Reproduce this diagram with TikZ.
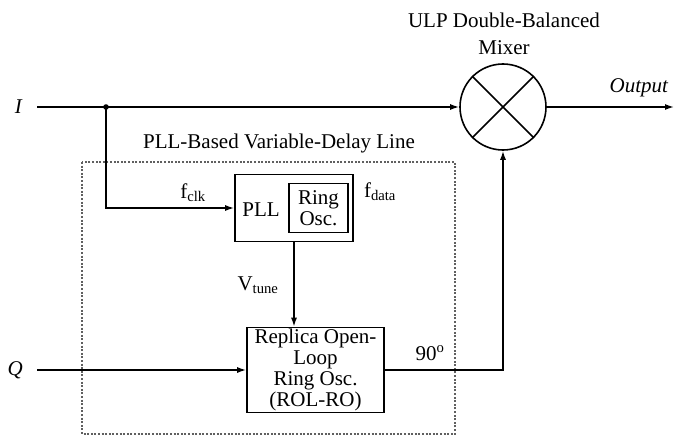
\documentclass[tikz,border=0pt]{standalone}
\usepackage{fontspec}
\setmainfont{Liberation Serif}
\usetikzlibrary{positioning,arrows.meta}
\tikzset{
    blk/.style={draw, line width=1.6pt, inner sep=0pt, align=center},
    wire/.style={line width=1.5pt},
    >={Latex[length=9pt,width=6pt]}
}
\begin{document}
\begin{tikzpicture}[x=1pt, y=-1pt, font=\fontsize{21}{21}\selectfont]
    \useasboundingbox (0,0) rectangle (686,436);
    % delay line frame
    \draw[dash pattern=on 2pt off 1.6pt, line width=2pt, gray!75!black] (82,162) rectangle (455,434);
    \node (dltitle) at (279,143) {PLL-Based Variable-Delay Line};

    % blocks
    \node[blk, minimum width=118, minimum height=67] (pll) at (294,208) {};
    \node[blk, minimum width=59, minimum height=49] (osc) at (318.5,208) {Ring\\Osc.};
    \node (plltext) at (261,210) {PLL};
    \node[blk, minimum width=137, minimum height=85] (rol) at (315.5,370) {Replica Open-\\Loop\\Ring Osc.\\(ROL-RO)};
    \node[draw, circle, line width=1.6pt, minimum size=86, inner sep=0pt] (mix) at (503,107) {};
    \draw[line width=1.5pt] (mix.45) -- (mix.225) (mix.135) -- (mix.-45);
    \node[align=center] (mixtitle) at (504,34) {ULP Double-Balanced\\[6pt]Mixer};

    % inputs and output
    \node[anchor=east, inner sep=14pt] (ilab) at (37,107) {\textit{I}};
    \node[anchor=east, inner sep=14pt] (qlab) at (37,370) {\textit{Q}};
    \coordinate (tap) at (106,107);
    \coordinate (out) at (674,107);
    \node (outlab) at (639,88) {\textit{Output}};

    % connections
    \draw[wire, ->] (ilab.east) -- (mix.west);
    \fill (tap) circle (2.8);
    \draw[wire, ->] (tap) |- (pll.west);
    \draw[wire, ->] (pll.south) -- (pll.south |- rol.north);
    \draw[wire, ->] (qlab.east) -- (rol.west);
    \draw[wire, ->] (rol.east) -| (mix.south);
    \draw[wire, ->] (mix.east) -- (out);

    % signal labels
    \node (fclk) at (193,193) {f\textsubscript{clk}};
    \node (fdata) at (380,192) {f\textsubscript{data}};
    \node (vtune) at (258,285) {V\textsubscript{tune}};
    \node (phase) at (430,353) {90\textsuperscript{o}};
\end{tikzpicture}
\end{document}
